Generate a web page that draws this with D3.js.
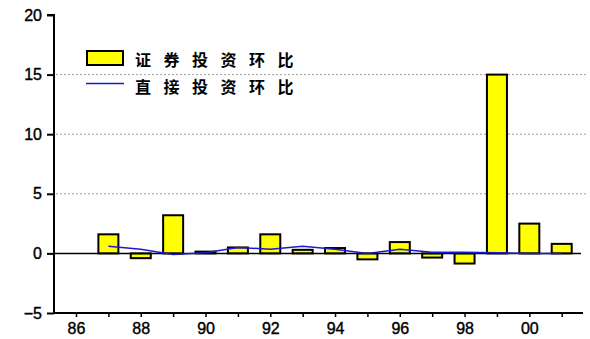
<!DOCTYPE html>
<html>
<head>
<meta charset="utf-8">
<script src="https://cdn.jsdelivr.net/npm/d3@7/dist/d3.min.js"></script>
<style>
  html, body { margin: 0; padding: 0; background: #fff; }
  svg { display: block; }
</style>
</head>
<body>
<svg id="chart" width="590" height="339"></svg>
<script>
// Year-on-period ratios, 1987–2001
const years = [1987, 1988, 1989, 1990, 1991, 1992, 1993, 1994, 1995, 1996, 1997, 1998, 1999, 2000, 2001];
const portfolioRatio = [1.6, -0.4, 3.2, 0.15, 0.5, 1.6, 0.3, 0.45, -0.5, 0.95, -0.35, -0.85, 15.0, 2.5, 0.8];
const directRatio = [0.6, 0.35, -0.1, 0.05, 0.5, 0.35, 0.6, 0.35, 0.0, 0.35, 0.1, 0.1, 0.05, 0.0, 0.0];
const seriesNames = ["证券投资环比", "直接投资环比"];
const yTicks = [-5, 0, 5, 10, 15, 20];
const gridValues = [5, 10, 15];
const xTickYears = d3.range(1986, 2002);
const xLabelYears = [1986, 1988, 1990, 1992, 1994, 1996, 1998, 2000];

const svg = d3.select("#chart");
const plotLeft = 54, plotRight = 583, plotTop = 15, plotBottom = 313;

const x = d3.scaleLinear().domain([1986, 2001]).range([76, 561.7]);
const y = d3.scaleLinear().domain([-5, 20]).range([plotBottom, plotTop]);
const barW = 20;

// dotted grid lines
svg.append("g").selectAll("line").data(gridValues).join("line")
  .attr("x1", plotLeft + 2).attr("x2", 586)
  .attr("y1", d => y(d)).attr("y2", d => y(d))
  .attr("stroke", "#a0a0a0").attr("stroke-width", 1)
  .attr("stroke-dasharray", "2,2");

// bars
svg.append("g").selectAll("rect").data(years).join("rect")
  .attr("x", (d) => x(d) - barW / 2)
  .attr("width", barW)
  .attr("y", (d, i) => y(Math.max(0, portfolioRatio[i])))
  .attr("height", (d, i) => Math.abs(y(portfolioRatio[i]) - y(0)))
  .attr("fill", "#ffff00")
  .attr("stroke", "#000")
  .attr("stroke-width", 2);

// zero line
svg.append("line")
  .attr("x1", plotLeft).attr("x2", 581)
  .attr("y1", y(0)).attr("y2", y(0))
  .attr("stroke", "#000").attr("stroke-width", 1.5);

// direct investment line
const line = d3.line().x((d, i) => x(years[i])).y(d => y(d));
svg.append("path").datum(directRatio)
  .attr("d", line)
  .attr("fill", "none")
  .attr("stroke", "#1a1ad0")
  .attr("stroke-width", 1.5);

// y axis
const yAxis = d3.axisLeft(y).tickValues(yTicks).tickSize(7).tickPadding(5).tickFormat(d3.format("d"));
const gy = svg.append("g").attr("transform", `translate(${plotLeft},0)`).call(yAxis);
gy.select(".domain").attr("d", `M-7,${y(20)}H0V${plotBottom}`).attr("stroke", "#000").attr("stroke-width", 2);
gy.selectAll(".tick line").attr("stroke", "#000").attr("stroke-width", 2);
gy.selectAll(".tick text")
  .attr("font-family", "Liberation Sans, Arial, sans-serif")
  .attr("font-size", 16).attr("fill", "#000")
  .attr("stroke", "#000").attr("stroke-width", 0.4);

// x axis
const xAxis = d3.axisBottom(x).tickValues(xTickYears).tickSize(4).tickPadding(6)
  .tickFormat(d => xLabelYears.includes(d) ? String(d % 100).padStart(2, "0") : "");
const gx = svg.append("g").attr("transform", `translate(0,${plotBottom})`).call(xAxis);
gx.select(".domain").attr("d", `M${plotLeft},0H${plotRight}`).attr("stroke", "#000").attr("stroke-width", 2);
gx.selectAll(".tick line").attr("stroke", "#000").attr("stroke-width", 1.5);
gx.selectAll(".tick text")
  .attr("font-family", "Liberation Sans, Arial, sans-serif")
  .attr("font-size", 16).attr("fill", "#000")
  .attr("stroke", "#000").attr("stroke-width", 0.4);

// legend
const lg = svg.append("g");
lg.append("rect").attr("x", 87).attr("y", 51).attr("width", 36).attr("height", 14)
  .attr("fill", "#ffff00").attr("stroke", "#000").attr("stroke-width", 2);
lg.append("line").attr("x1", 86).attr("x2", 124).attr("y1", 83.5).attr("y2", 83.5)
  .attr("stroke", "#1a1ad0").attr("stroke-width", 1.5);
lg.selectAll("text").data(seriesNames).join("text")
  .attr("x", 135)
  .attr("y", (d, i) => 66 + i * 27)
  .attr("font-family", "Noto Sans CJK SC, sans-serif")
  .attr("font-size", 16)
  .attr("font-weight", 700)
  .attr("letter-spacing", 12.5)
  .attr("fill", "#000")
  .text(d => d);
</script>
</body>
</html>
